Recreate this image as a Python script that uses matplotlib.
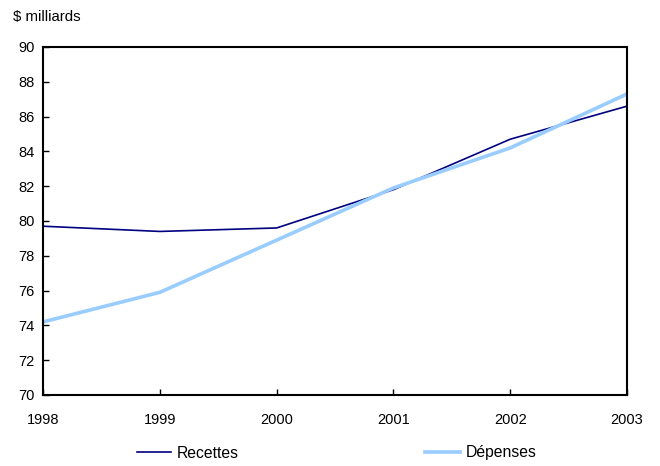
import matplotlib
matplotlib.use("Agg")
import matplotlib.pyplot as plt

years = [1998, 1999, 2000, 2001, 2002, 2003]
recettes = [79.7, 79.4, 79.6, 81.8, 84.7, 86.6]
depenses = [74.2, 75.9, 78.9, 81.9, 84.2, 87.3]
yticks = [70, 72, 74, 76, 78, 80, 82, 84, 86, 88, 90]

plt.rcParams["font.family"] = ["Liberation Sans", "DejaVu Sans"]
plt.rcParams["font.size"] = 10.5

fig = plt.figure(figsize=(6.6, 4.66), dpi=100)
ax = fig.add_axes([43 / 660, 1 - 395 / 466, (627 - 43) / 660, (395 - 47) / 466])

ax.plot(years, recettes, color="#000080", lw=1.2, label="Recettes")
ax.plot(years, depenses, color="#99CCFF", lw=2.6, label="Dépenses")

ax.set_xlim(1998, 2003)
ax.set_ylim(70, 90)
ax.set_xticks(years)
ax.set_yticks(yticks)
ax.tick_params(direction="in", length=4, width=1, colors="black", labelsize=10.5)
ax.tick_params(axis="x", pad=13)
ax.tick_params(axis="y", pad=6)
for s in ax.spines.values():
    s.set_linewidth(1.5)
    s.set_color("black")

fig.text(13 / 660, 1 - 17 / 466, "$ milliards", ha="left", va="center", fontsize=10.8)

fig.legend(loc="center left", bbox_to_anchor=(136.5 / 660, 1 - 453 / 466), ncol=2,
           frameon=False, handlelength=2.23, handletextpad=0.32, columnspacing=11.9,
           borderaxespad=0, borderpad=0, fontsize=11.3)

fig.savefig("out.png", dpi=100, facecolor="white")
